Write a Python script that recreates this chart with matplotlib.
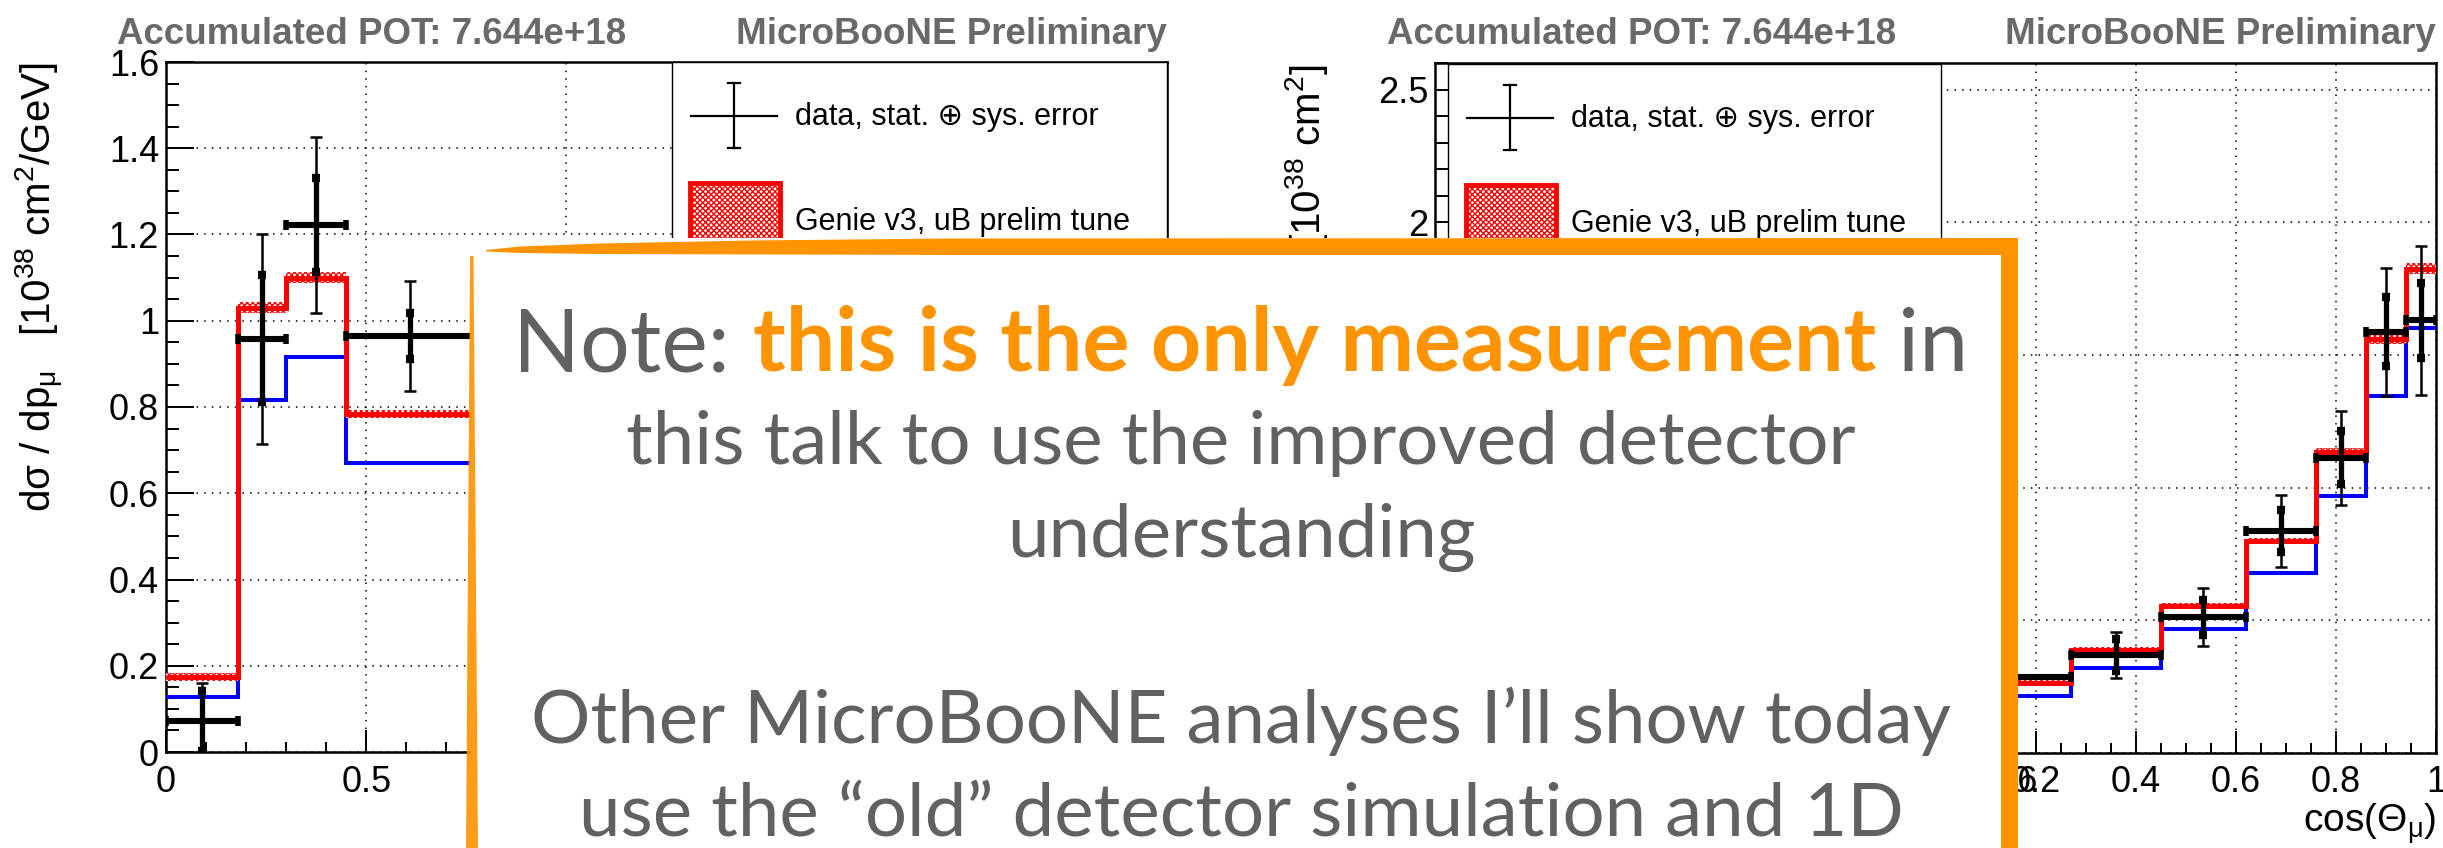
"""MicroBooNE CC-inclusive cross sections with slide note overlay."""

import matplotlib
matplotlib.use("Agg")
import matplotlib.pyplot as plt
import numpy as np
from matplotlib.patches import Polygon, Rectangle
from matplotlib.ticker import FormatStrFormatter, MultipleLocator

# ---- data: muon momentum (GeV) ----
p_edges = [0.0, 0.18, 0.30, 0.45, 0.77, 1.28, 2.50]
p_data = [0.072, 0.958, 1.222, 0.965, 0.62, 0.20]      # last two bins hidden by the note
p_stat = [0.070, 0.147, 0.110, 0.053, 0.04, 0.02]
p_total = [0.088, 0.243, 0.205, 0.127, 0.09, 0.04]
p_tune = [0.174, 1.030, 1.100, 0.784, 0.50, 0.15]
p_tune_err = [0.010, 0.013, 0.013, 0.010, 0.01, 0.01]
p_alt = [0.128, 0.816, 0.916, 0.670, 0.45, 0.13]

# ---- data: cos(theta_mu) ----
c_edges = [-1.0, -0.5, 0.0, 0.27, 0.45, 0.62, 0.76, 0.86, 0.94, 1.0]
c_data = [0.12, 0.18, 0.286, 0.37, 0.512, 0.837, 1.112, 1.587, 1.63]   # first bins hidden
c_stat = [0.02, 0.03, 0.040, 0.060, 0.066, 0.080, 0.100, 0.130, 0.140]
c_total = [0.05, 0.06, 0.070, 0.087, 0.110, 0.135, 0.177, 0.240, 0.280]
c_tune = [0.11, 0.17, 0.264, 0.390, 0.555, 0.800, 1.135, 1.560, 1.825]
c_tune_err = [0.01, 0.01, 0.010, 0.010, 0.012, 0.012, 0.015, 0.018, 0.020]
c_alt = [0.09, 0.14, 0.215, 0.320, 0.467, 0.680, 0.968, 1.346, 1.600]

TITLE_L = "Accumulated POT: 7.644e+18"
TITLE_R = "MicroBooNE Preliminary"
LEG_DATA = "data, stat. \u2295 sys. error"
LEG_TUNE = "Genie v3, uB prelim tune"

W, H = 2443, 848
ORANGE = "#FF9300"
GRAY = "#616161"
TITLE_GRAY = "#696969"

plt.rcParams.update({
    "font.family": ["Liberation Sans", "DejaVu Sans"],
    "mathtext.fontset": "custom",
    "mathtext.rm": "Liberation Sans",
    "mathtext.it": "Liberation Sans:italic",
    "mathtext.default": "regular",
    "hatch.linewidth": 1.0,
})

fig = plt.figure(figsize=(W / 100, H / 100), dpi=100)


def px_axes(x0, y0, x1, y1):
    return fig.add_axes([x0 / W, 1 - y1 / H, (x1 - x0) / W, (y1 - y0) / H])


def draw_panel(ax, edges, data, stat, total, tune, tune_err, alt, xlim, ylim,
               xmaj, xmin, ymaj, ymin):
    edges = np.asarray(edges)
    centers = 0.5 * (edges[1:] + edges[:-1])
    half = 0.5 * np.diff(edges)
    tune = np.asarray(tune)
    tune_err = np.asarray(tune_err)

    ax.stairs(alt, edges, baseline=None, color="#0000FF", lw=2.9, zorder=3)
    ax.stairs(tune + tune_err, edges, baseline=tune - tune_err, fill=True,
              facecolor="white", edgecolor="#FF0000", hatch="xxxxxx", lw=0, zorder=3)
    ax.stairs(tune, edges, baseline=None, color="#FF0000", lw=3.6, zorder=4)

    ax.errorbar(centers, data, yerr=total, fmt="none", ecolor="black",
                elinewidth=1.8, capsize=4.5, capthick=1.8, zorder=5)
    ax.errorbar(centers, data, yerr=stat, fmt="none", ecolor="black",
                elinewidth=3.8, capsize=3.2, capthick=6, zorder=6)
    ax.errorbar(centers, data, xerr=half, fmt="none", ecolor="black",
                elinewidth=4.4, capsize=3.5, capthick=4, zorder=6)

    ax.set_xlim(*xlim)
    ax.set_ylim(*ylim)
    ax.xaxis.set_major_locator(MultipleLocator(xmaj))
    ax.xaxis.set_minor_locator(MultipleLocator(xmin))
    ax.yaxis.set_major_locator(MultipleLocator(ymaj))
    ax.yaxis.set_minor_locator(MultipleLocator(ymin))
    ax.xaxis.set_major_formatter(FormatStrFormatter("%g"))
    ax.yaxis.set_major_formatter(FormatStrFormatter("%g"))
    ax.tick_params(which="both", direction="in", top=False, right=False,
                   width=1.4, labelsize=26, colors="black")
    ax.tick_params(axis="y", which="major", length=20, pad=5)
    ax.tick_params(axis="y", which="minor", length=9.5)
    ax.tick_params(axis="x", which="major", length=16, pad=9)
    ax.tick_params(axis="x", which="minor", length=7)
    ax.grid(True, which="major", color="black", ls=(0, (1, 4)), lw=1.1)
    ax.set_axisbelow(True)
    for sp in ax.spines.values():
        sp.set_linewidth(1.8)


ax_p = px_axes(166, 62, 1167, 752)
draw_panel(ax_p, p_edges, p_data, p_stat, p_total, p_tune, p_tune_err, p_alt,
           (0, 2.5), (0, 1.6), 0.5, 0.1, 0.2, 0.05)

ax_c = px_axes(1435, 63, 2436, 753)
draw_panel(ax_c, c_edges, c_data, c_stat, c_total, c_tune, c_tune_err, c_alt,
           (-1, 1), (0, 2.6), 0.2, 0.05, 0.5, 0.1)

# ---- overlay in pixel coordinates: titles, legends, note box ----
ov = fig.add_axes([0, 0, 1, 1])
ov.set_xlim(0, W)
ov.set_ylim(H, 0)
ov.axis("off")

for x0, x1 in [(117, 1167), (1387, 2436)]:
    ov.text(x0, 44, TITLE_L, ha="left", va="baseline", fontsize=26.5,
            fontweight="bold", color=TITLE_GRAY)
    ov.text(x1, 44, TITLE_R, ha="right", va="baseline", fontsize=26.5,
            fontweight="bold", color=TITLE_GRAY)

ov.text(40, 62, r"d$\sigma$ / dp$_{\mu}$   [10$^{38}$ cm$^{2}$/GeV]", rotation=90,
        ha="center", va="top", fontsize=29)
ov.text(1310, 65, r"d$\sigma$ / dcos($\theta_{\mu}$)   [10$^{38}$ cm$^{2}$]", rotation=90,
        ha="center", va="top", fontsize=29)
p_xlabel = ov.text(1167, 833, r"p$_{\mu}$ [GeV]", ha="right", va="baseline", fontsize=28)
ov.text(2436, 833, r"cos($\Theta_{\mu}$)", ha="right", va="baseline", fontsize=28)


def legend(x0, x1, y0):
    ov.add_patch(Rectangle((x0, y0), x1 - x0, 320, fc="white", ec="black", lw=1.0, zorder=5))
    cx, cy = x0 + 62, y0 + 54
    ov.plot([x0 + 19, x0 + 105], [cy, cy], color="black", lw=1.6, zorder=6)
    ov.plot([cx, cx], [y0 + 21, y0 + 86], color="black", lw=1.6, zorder=6)
    for yy in (y0 + 21, y0 + 86):
        ov.plot([cx - 6, cx + 6], [yy, yy], color="black", lw=1.6, zorder=6)
    ov.text(x0 + 123, cy + 9, LEG_DATA, ha="left", va="baseline", fontsize=22, zorder=6)
    ov.add_patch(Rectangle((x0 + 18, y0 + 121), 90, 200, fc="white", ec="#FF0000",
                           lw=3.5, hatch="xxxxxx", zorder=6))
    ov.text(x0 + 123, y0 + 168, LEG_TUNE, ha="left", va="baseline", fontsize=22, zorder=6)


legend(672, 1167, 62)
legend(1448, 1941, 64)

# note box
BOX_L, BOX_R, BOX_T = 471, 2018, 238
ov.add_patch(Rectangle((BOX_L, BOX_T), BOX_R - BOX_L, H - BOX_T + 5, fc="white",
                       ec="none", zorder=10))
ov.add_patch(Polygon([(486, 250), (520, 246.5), (600, 243.5), (750, 240.5), (950, 238.5),
                      (BOX_R, 238), (BOX_R, 255), (950, 255), (600, 254), (520, 253),
                      (486, 251.5)], closed=True, fc=ORANGE, ec="none", zorder=11))
ov.add_patch(Rectangle((2001, BOX_T), BOX_R - 2001, H - BOX_T + 5, fc=ORANGE, ec="none",
                       zorder=11))
ov.add_patch(Polygon([(470, 256), (473.5, 256), (478, H + 2), (466, H + 2)], closed=True,
                     fc=ORANGE, ec="none", alpha=0.9, zorder=11))

BOX_FONT = ["Lato", "DejaVu Sans"]
box_lines = [
    [("Note:", GRAY, "normal"), ("this is the only measurement", ORANGE, "bold"),
     ("in", GRAY, "normal")],
    [("this talk to use the improved detector", GRAY, "normal")],
    [("understanding", GRAY, "normal")],
    [("Other MicroBooNE analyses I\u2019ll show today", GRAY, "normal")],
    [("use the \u201cold\u201d detector simulation and 1D", GRAY, "normal")],
]
line_widths = [1456, 1234, 452, 1419, 1330]
baselines = [371, 464, 557, 743, 836]
BOX_CX = 1241

renderer = fig.canvas.get_renderer()


def text_width(s, size, weight):
    t = ov.text(0, 0, s, fontsize=size, fontweight=weight, family=BOX_FONT)
    w = t.get_window_extent(renderer).width
    t.remove()
    return w


def line_width(segs, size):
    space = text_width("n n", size, "normal") - text_width("nn", size, "normal")
    return sum(text_width(s, size, wt) for s, _, wt in segs) + space * (len(segs) - 1)


# one size for the body lines, a separate fit for the first (larger) line
body = 50 * sum(line_widths[1:]) / sum(line_width(l, 50) for l in box_lines[1:])
head = 50 * line_widths[0] / line_width(box_lines[0], 50)
sizes = [head] + [body] * 4

for segs, yb, size in zip(box_lines, baselines, sizes):
    space = text_width("n n", size, "normal") - text_width("nn", size, "normal")
    widths = [text_width(s, size, wt) for s, _, wt in segs]
    x = BOX_CX - (sum(widths) + space * (len(segs) - 1)) / 2
    for (s, col, wt), w in zip(segs, widths):
        ov.text(x, yb, s, ha="left", va="baseline", fontsize=size, fontweight=wt,
                color=col, family=BOX_FONT, zorder=12)
        x += w + space

# texts fully under the note box are invisible in the slide; drop them
fig.canvas.draw()
box_disp = (BOX_L, BOX_R, 0, H - BOX_T)
covered = list(ax_p.get_xticklabels()) + list(ax_c.get_xticklabels()) \
    + list(ax_c.get_yticklabels()) + [p_xlabel]
for t in covered:
    bb = t.get_window_extent(renderer)
    if bb.x0 >= box_disp[0] and bb.x1 <= box_disp[1] and bb.y1 <= box_disp[3]:
        t.set_visible(False)

fig.savefig("out.png", dpi=100)
